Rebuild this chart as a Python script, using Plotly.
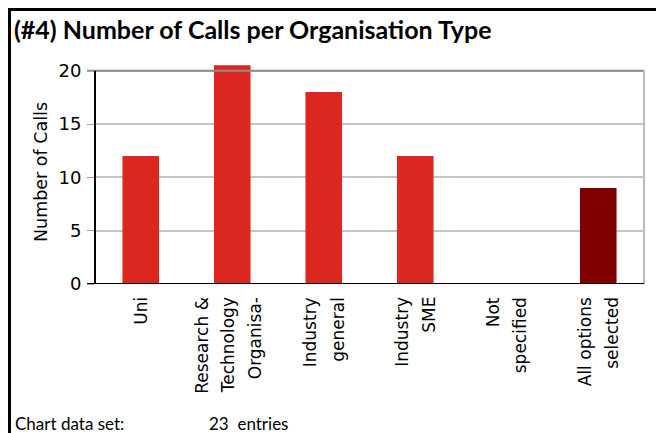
import plotly.graph_objects as go

# Organisation types and number of calls
categories = ["Uni", "Research & Technology Organisa-", "Industry general",
              "Industry SME", "Not specified", "All options selected"]
label_lines = [
    ["Uni"],
    ["Research &", "Technology", "Organisa-"],
    ["Industry", "general"],
    ["Industry", "SME"],
    ["Not", "specified"],
    ["All options", "selected"],
]
calls = [12, 20.5, 18, 12, 0, 9]
bar_colors = ["#DC2620", "#DC2620", "#DC2620", "#DC2620", "#DC2620", "#800000"]
y_ticks = [0, 5, 10, 15, 20]
y_max = 21
entries = 23

W, H = 656, 433
L, R, T, B = 95, 12, 60, 149
PW, PH = W - L - R, H - T - B


def px(x):
    return (x - L) / PW


def py(y):
    return (H - B - y) / PH


fig = go.Figure(
    go.Bar(
        x=categories,
        y=calls,
        marker=dict(color=bar_colors, line=dict(width=0)),
        hoverinfo="x+y",
    )
)

axis_font = dict(family="DejaVu Sans", size=17, color="#000000")

# category labels: one rotated line per annotation, columns spaced apart
line_gap = 27
annotations = []
for cat, lines in zip(categories, label_lines):
    n = len(lines)
    group_shift = -4 if n == 3 else 0
    for i, line in enumerate(lines):
        annotations.append(dict(
            text=line, x=cat, y=0, xref="x", yref="y",
            textangle=-90, xanchor="center", yanchor="top",
            xshift=(i - (n - 1) / 2) * line_gap + group_shift, yshift=-11,
            showarrow=False, font=axis_font,
        ))

footer_font = dict(family="Lato", size=17, color="#000000")
annotations += [
    dict(text="Chart data set:", xref="paper", yref="paper", x=px(13), y=py(423),
         xanchor="left", yanchor="middle", showarrow=False, font=footer_font),
    dict(text=f"{entries}  entries", xref="paper", yref="paper", x=px(207), y=py(423),
         xanchor="left", yanchor="middle", showarrow=False, font=footer_font),
]

fig.update_layout(
    width=W,
    height=H,
    margin=dict(l=L, r=R, t=T, b=B),
    paper_bgcolor="white",
    plot_bgcolor="white",
    bargap=0.6,
    showlegend=False,
    title=dict(
        text="<b>(#4) Number of Calls per Organisation Type</b>",
        font=dict(family="Lato", size=25, color="#000000"),
        x=14 / W,
        xanchor="left",
        xref="container",
        y=1 - 30 / H,
        yanchor="middle",
        yref="container",
    ),
    xaxis=dict(
        showticklabels=False,
        showline=False,
        ticks="",
        showgrid=False,
        fixedrange=True,
    ),
    yaxis=dict(
        range=[0, y_max],
        tickvals=y_ticks,
        tickfont=dict(family="DejaVu Sans", size=18, color="#000000"),
        showgrid=True,
        gridcolor="#C4C4C4",
        gridwidth=1.5,
        zeroline=False,
        showline=False,
        ticks="outside",
        ticklen=7,
        tickcolor="#A0A0A0",
        ticklabelstandoff=2,
        title=dict(text="Number of Calls", font=dict(family="DejaVu Sans", size=17.5, color="#000000"),
                   standoff=6),
        fixedrange=True,
    ),
    shapes=[
        # top edge of the plot area
        dict(type="line", xref="paper", yref="y", x0=px(87), x1=1, y0=20, y1=20,
             line=dict(color="#8C8C8C", width=2)),
        # right edge of the plot area
        dict(type="line", xref="paper", yref="y", x0=1, x1=1, y0=0, y1=20,
             line=dict(color="#BDBDBD", width=2)),
        # value axis line
        dict(type="line", xref="paper", yref="y", x0=0, x1=0, y0=0, y1=20,
             line=dict(color="#000000", width=2)),
        # category axis line, extended under the tick column
        dict(type="line", xref="paper", yref="y", x0=px(87), x1=1, y0=0, y1=0,
             line=dict(color="#000000", width=2)),
        # outer frame (left and top)
        dict(type="line", xref="paper", yref="paper", x0=px(9.5), x1=px(9.5), y0=py(9), y1=py(H + 5),
             line=dict(color="#000000", width=3)),
        dict(type="line", xref="paper", yref="paper", x0=px(8), x1=px(W + 5), y0=py(9.5), y1=py(9.5),
             line=dict(color="#000000", width=3)),
    ],
    annotations=annotations,
)

fig.write_html("out.html", config={"displayModeBar": False})
